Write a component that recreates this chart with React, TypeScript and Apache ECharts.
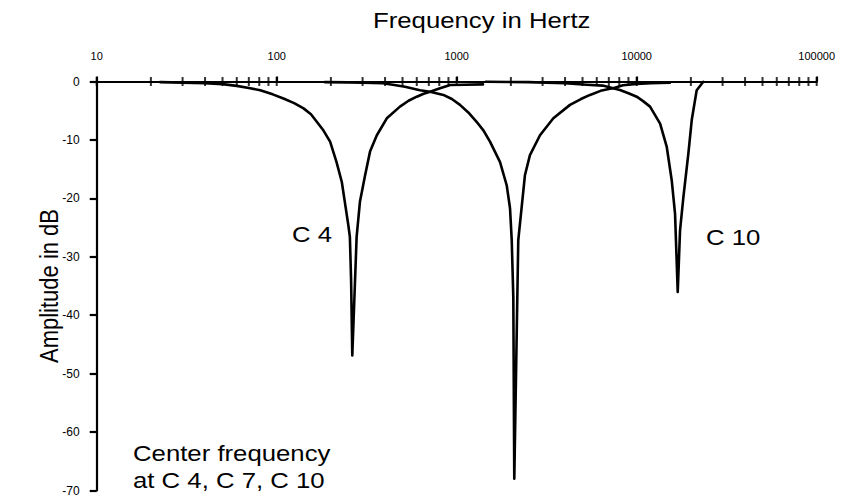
import React, { useEffect, useRef } from "react";
import * as echarts from "echarts";

// Frequency axis ticks (Hz)
const tickFreqs = [
  20, 30, 40, 50, 60, 70, 80, 90,
  200, 300, 400, 500, 600, 700, 800, 900,
  2000, 3000, 4000, 5000, 6000, 7000, 8000, 9000,
  20000, 30000, 40000, 50000, 60000, 70000, 80000, 90000,
  10, 100, 1000, 10000, 100000,
];

// Notch at C 4
const c4Freq = [22.5, 30, 40, 50, 60, 70, 81, 95, 109, 125, 141, 155, 167, 182, 198, 215, 230, 239, 250, 255, 259, 263, 278, 290, 310, 330, 360, 409, 484, 540, 600, 655, 712, 800, 920, 1100, 1400];
const c4Db = [-0.1, -0.2, -0.3, -0.45, -0.75, -1.1, -1.5, -2.2, -2.9, -3.7, -4.6, -5.6, -6.9, -8.4, -10.3, -13.8, -17.2, -20.6, -24.6, -26.6, -34.0, -46.9, -26.6, -20.6, -16.0, -12.0, -9.2, -6.3, -4.3, -3.3, -2.6, -2.1, -1.75, -1.2, -0.6, -0.55, -0.5];

// Notch at C 7
const c7Freq = [185, 250, 300, 389, 450, 516, 625, 712, 843, 940, 1043, 1160, 1290, 1410, 1531, 1741, 1897, 1978, 2022, 2063, 2089, 2198, 2296, 2395, 2552, 2902, 3443, 4260, 4900, 5505, 6300, 7112, 7400, 8390, 10000, 12000, 15300];
const c7Db = [-0.1, -0.15, -0.2, -0.3, -0.6, -0.9, -1.5, -1.75, -2.3, -3.0, -4.0, -5.3, -6.9, -8.4, -10.3, -13.8, -17.8, -21.7, -27.2, -36.9, -68.0, -27.2, -21.5, -16.0, -12.6, -9.2, -6.3, -4.0, -3.0, -2.3, -1.6, -1.25, -1.15, -0.65, -0.4, -0.3, -0.2];

// Notch at C 10
const c10Freq = [1450, 2500, 4000, 5272, 6470, 7400, 8075, 9000, 10000, 10900, 11860, 13490, 14690, 15650, 16330, 16900, 17410, 18170, 19370, 20220, 21540, 23440];
const c10Db = [-0.05, -0.1, -0.3, -0.55, -0.7, -1.15, -1.45, -2.0, -2.6, -3.4, -4.3, -7.2, -11.2, -16.9, -22.6, -36.0, -25.5, -19.8, -12.3, -6.6, -1.5, -0.05];

const xTitle = "Frequency in Hertz";
const yTitle = "Amplitude in dB";
const labelC4 = "C 4";
const labelC10 = "C 10";
const noteLines = ["Center frequency", "at C 4, C 7, C 10"];

const FONT = '"Liberation Sans", Arial, Helvetica, sans-serif';
const STRETCH = 1.17;

function zip(xs: number[], ys: number[]) {
  return xs.map((x, i) => [x, ys[i]]);
}

function curve(name: string, xs: number[], ys: number[]) {
  return {
    name,
    type: "line",
    data: zip(xs, ys),
    showSymbol: false,
    symbol: "none",
    clip: false,
    lineStyle: { color: "#000", width: 2.6, join: "round", cap: "round" },
    z: 3,
  };
}

function bigText(text: string, x: number, y: number, extra: any = {}) {
  return {
    type: "text",
    x,
    y,
    scaleX: STRETCH,
    silent: true,
    style: {
      text,
      fill: "#000",
      font: `22px ${FONT}`,
      textAlign: "left",
      textVerticalAlign: "middle",
    },
    ...extra,
  };
}

export default function App() {
  const ref = useRef<HTMLDivElement>(null);
  useEffect(() => {
    if (!ref.current) return;
    const chart = echarts.init(ref.current, undefined, { renderer: "svg" });
    const axisLine = { color: "#000", width: 2.2 };
    chart.setOption({
      animation: false,
      backgroundColor: "#fff",
      grid: { left: 96.7, right: 26.3, top: 81.5, bottom: 7.5, containLabel: false },
      xAxis: {
        type: "log",
        logBase: 10,
        min: 10,
        max: 100000,
        position: "top",
        axisLine: { show: true, onZero: false, lineStyle: axisLine },
        axisTick: { show: true, length: 5, lineStyle: axisLine },
        axisLabel: {
          margin: 20,
          fontSize: 11,
          color: "#000",
          fontFamily: FONT,
          formatter: (v: number) => String(Math.round(v)),
        },
        splitLine: { show: false },
      },
      yAxis: {
        type: "value",
        min: -70,
        max: 0,
        interval: 10,
        axisLine: { show: true, onZero: false, lineStyle: axisLine },
        axisTick: { show: true, length: 7, lineStyle: axisLine },
        axisLabel: { margin: 17, fontSize: 12, color: "#000", fontFamily: FONT },
        splitLine: { show: false },
      },
      series: [
        {
          name: "ticks",
          type: "scatter",
          data: tickFreqs.map((f) => [f, 0]),
          symbol: "rect",
          symbolSize: [2, 9],
          itemStyle: { color: "#000" },
          clip: false,
          silent: true,
          z: 2,
        },
        curve("C 4", c4Freq, c4Db),
        curve("C 7", c7Freq, c7Db),
        curve("C 10", c10Freq, c10Db),
      ],
      graphic: [
        bigText(xTitle, 373, 20),
        {
          type: "text",
          x: 49,
          y: 286,
          rotation: Math.PI / 2,
          scaleY: STRETCH,
          silent: true,
          style: {
            text: yTitle,
            fill: "#000",
            font: `22px ${FONT}`,
            textAlign: "center",
            textVerticalAlign: "middle",
          },
        },
        bigText(labelC4, 292, 234),
        bigText(labelC10, 706, 237.5),
        bigText(noteLines[0], 133, 453),
        bigText(noteLines[1], 133, 480),
      ],
    });
    return () => chart.dispose();
  }, []);
  return (
    <div
      ref={ref}
      style={{ position: "absolute", left: 0, top: 0, width: 843, height: 498, background: "#fff" }}
    />
  );
}
